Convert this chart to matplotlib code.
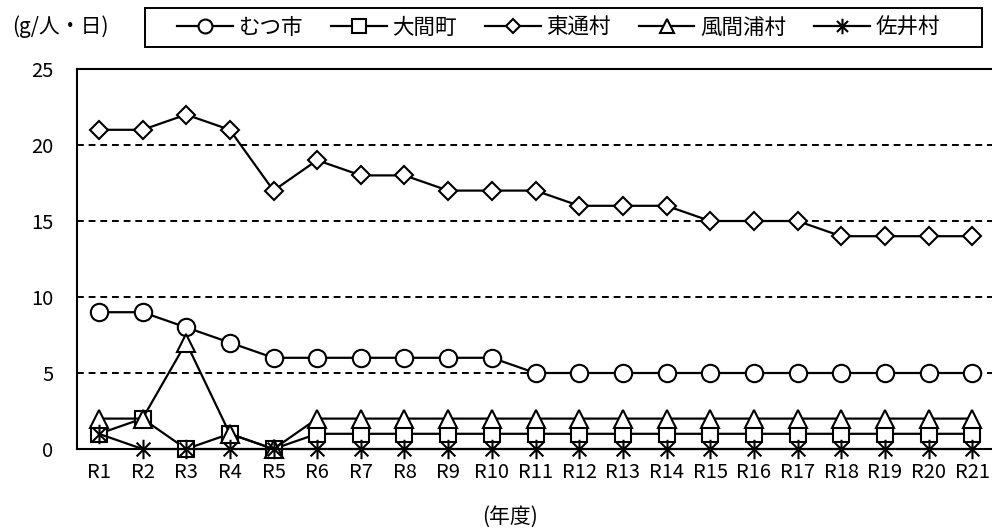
import matplotlib
matplotlib.use("Agg")
import matplotlib.pyplot as plt
from matplotlib.path import Path
from matplotlib.patches import Rectangle
import numpy as np

plt.rcParams['font.family'] = ['Noto Sans CJK JP', 'DejaVu Sans']

years = [f"R{i}" for i in range(1, 22)]
mutsu = [9, 9, 8, 7, 6, 6, 6, 6, 6, 6, 5, 5, 5, 5, 5, 5, 5, 5, 5, 5, 5]
oma = [1, 2, 0, 1, 0, 1, 1, 1, 1, 1, 1, 1, 1, 1, 1, 1, 1, 1, 1, 1, 1]
higashidori = [21, 21, 22, 21, 17, 19, 18, 18, 17, 17, 17, 16, 16, 16, 15, 15, 15, 14, 14, 14, 14]
kazamaura = [2, 2, 7, 1, 0, 2, 2, 2, 2, 2, 2, 2, 2, 2, 2, 2, 2, 2, 2, 2, 2]
sai = [1, 0, 0, 0, 0, 0, 0, 0, 0, 0, 0, 0, 0, 0, 0, 0, 0, 0, 0, 0, 0]
series_names = ["むつ市", "大間町", "東通村", "風間浦村", "佐井村"]
yticks = [0, 5, 10, 15, 20, 25]

# asterisk marker: vertical line + two diagonals
d = 0.7071
star = Path([(0, -1), (0, 1), (-d, -d), (d, d), (-d, d), (d, -d)],
            [Path.MOVETO, Path.LINETO, Path.MOVETO, Path.LINETO, Path.MOVETO, Path.LINETO])

W, H = 992, 530
fig = plt.figure(figsize=(W/100, H/100), dpi=100)
ax = fig.add_axes([77/W, 1-449/H, (994-77)/W, (449-69)/H])

x = np.arange(len(years))
common = dict(color='black', lw=1.6, mfc='white', mec='black', mew=1.5)
styles = [('o', 12.5), ('s', 12), ('D', 9.5), ('^', 12.5), (star, 14)]
data = [mutsu, oma, higashidori, kazamaura, sai]
handles = []
for vals, name, (m, ms) in zip(data, series_names, styles):
    h, = ax.plot(x, vals, marker=m, ms=ms, label=name, clip_on=False, **common)
    handles.append(h)

ax.set_xlim(-0.5, 20.5)
ax.set_ylim(0, 25)
ax.set_yticks(yticks)
ax.set_xticks(x)
ax.set_xticklabels(years)
ax.tick_params(length=0, labelsize=14.5)
ax.tick_params(axis='x', pad=9)
ax.tick_params(axis='y', pad=17)
for yv in [5, 10, 15, 20]:
    ax.axhline(yv, color='black', lw=1.4, ls=(0, (3.5, 2.5)), zorder=0)
for s in ['left', 'bottom', 'top']:
    ax.spines[s].set_linewidth(1.5)
    ax.spines[s].set_color('black')
ax.spines['right'].set_visible(False)

leg = fig.legend(handles=handles, loc='center left', ncol=5,
                 bbox_to_anchor=(177/W, 1-28/H),
                 fontsize=15.5, frameon=False, markerscale=0.8,
                 handlelength=2.6, handletextpad=0.25, borderaxespad=0,
                 borderpad=0, columnspacing=1.3)
fig.add_artist(Rectangle((145/W, 1-47/H), (982-145)/W, 39/H, transform=fig.transFigure,
                         fill=False, edgecolor='black', lw=1.4))

fig.text(60/W, 1-27/H, "(g/人・日)", ha='center', va='center', fontsize=15)
fig.text(510/W, 1-517/H, "(年度)", ha='center', va='center', fontsize=15)

fig.savefig("out.png", dpi=100)
